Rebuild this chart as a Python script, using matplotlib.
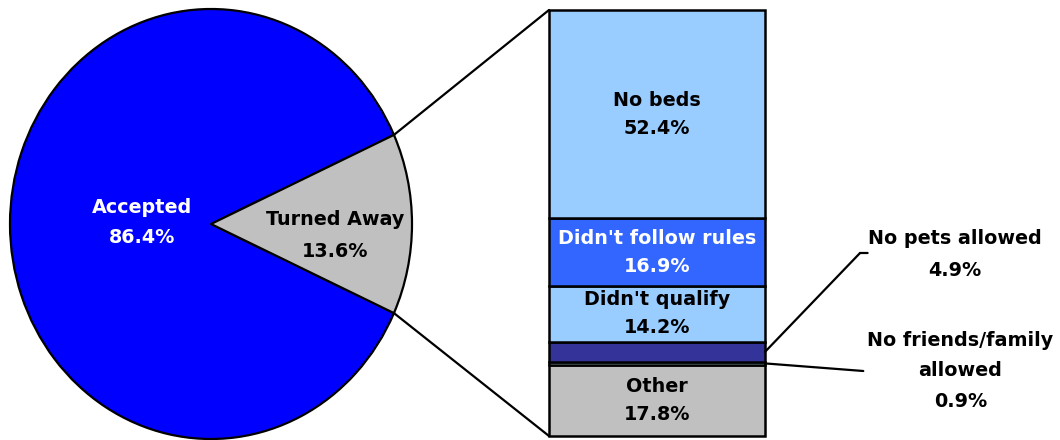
import matplotlib
matplotlib.use("Agg")
import matplotlib.pyplot as plt
from matplotlib.patches import ConnectionPatch
import numpy as np

plt.rcParams['font.family'] = ['DejaVu Sans']

# ---- data ----
pie_labels = ["Accepted", "Turned Away"]
pie_values = [86.4, 13.6]
pie_colors = ["#0000FF", "#C0C0C0"]

bar_labels = ["Other", "No friends/family\nallowed", "No pets allowed",
              "Didn't qualify", "Didn't follow rules", "No beds"]
bar_values = [17.8, 0.9, 4.9, 14.2, 16.9, 52.4]
bar_colors = ["#C0C0C0", "#CCFFFF", "#333399", "#99CCFF", "#3366FF", "#99CCFF"]
bar_text_colors = ["black", "black", "black", "black", "white", "black"]

W, H = 1060, 440
fig = plt.figure(figsize=(W / 100, H / 100), dpi=100)
FS = 13.8

# ---- pie ----
axp = fig.add_axes([10 / W, 1 / H, 402 / W, 430 / H])
start = pie_values[1] / 100 * 360 / 2
wedges, _ = axp.pie(pie_values, colors=pie_colors, startangle=start,
                    counterclock=True,
                    wedgeprops=dict(edgecolor="black", linewidth=1.6,
                                    clip_on=False))
axp.set_aspect('auto')
axp.set_xlim(-1.0, 1.0)
axp.set_ylim(-1.0, 1.0)
axp.axis('off')

# labels inside pie
def two_lines(ax, x, y1, y2, l1, l2, color, **kw):
    ax.text(x, y1, l1, ha='center', va='center', fontsize=FS,
            fontweight='bold', color=color, **kw)
    ax.text(x, y2, l2, ha='center', va='center', fontsize=FS,
            fontweight='bold', color=color, **kw)

two_lines(axp, -0.343, 0.079, -0.065, pie_labels[0],
          f"{pie_values[0]:.1f}%", "white")
two_lines(axp, 0.617, 0.019, -0.126, pie_labels[1],
          f"{pie_values[1]:.1f}%", "black")

# ---- stacked bar ----
total = sum(bar_values)
axb = fig.add_axes([549 / W, 4 / H, 216 / W, 426 / H])
bottoms = np.concatenate([[0], np.cumsum(bar_values)[:-1]])
bars = axb.bar([0.5] * len(bar_values), bar_values, width=1.0, bottom=bottoms,
               color=bar_colors, edgecolor="black", linewidth=1.8)
for b in bars:
    b.set_clip_on(False)
axb.set_xlim(0, 1)
axb.set_ylim(0, total)
axb.axis('off')

for lab, v, b, tc in zip(bar_labels, bar_values, bottoms, bar_text_colors):
    mid = b + v / 2
    if v < 5:
        continue
    px_per = 426 / total
    off = 14 / px_per
    two_lines(axb, 0.5, mid + off, mid - off, lab, f"{v:.1f}%", tc)

# outside labels for small segments
# No pets allowed
i_p = 2
mid_p = bottoms[i_p] + bar_values[i_p] / 2
axb.annotate("", xy=(1.0, mid_p), xycoords='data',
             xytext=(1.44, 0.4296), textcoords='axes fraction',
             arrowprops=dict(arrowstyle='-', color='black', lw=1.6,
                             shrinkA=0, shrinkB=0))
axb.annotate("", xy=(1.44, 0.4296), xycoords='axes fraction',
             xytext=(1.475, 0.4296), textcoords='axes fraction',
             arrowprops=dict(arrowstyle='-', color='black', lw=1.6,
                             shrinkA=0, shrinkB=0))
axb.text(1.88, (436 - 238) / 426, bar_labels[i_p], transform=axb.transAxes,
         ha='center', va='center', fontsize=FS, fontweight='bold')
axb.text(1.88, (436 - 270) / 426, f"{bar_values[i_p]:.1f}%",
         transform=axb.transAxes, ha='center', va='center', fontsize=FS,
         fontweight='bold')

# No friends/family allowed
i_f = 1
mid_f = bottoms[i_f] + bar_values[i_f] / 2
axb.annotate("", xy=(1.0, mid_f), xycoords='data',
             xytext=(1.455, (436 - 371) / 426), textcoords='axes fraction',
             arrowprops=dict(arrowstyle='-', color='black', lw=1.6,
                             shrinkA=0, shrinkB=0))
fl = bar_labels[i_f].split("\n")
for txt, py in zip(fl + [f"{bar_values[i_f]:.1f}%"], [340, 370, 401]):
    axb.text(1.905, (436 - py) / 426, txt, transform=axb.transAxes,
             ha='center', va='center', fontsize=FS, fontweight='bold')

# ---- connecting lines ----
th1 = np.deg2rad(start)
th2 = np.deg2rad(-start)
for th, yb in [(th1, total), (th2, 0)]:
    con = ConnectionPatch(xyA=(np.cos(th), np.sin(th)), coordsA=axp.transData,
                          xyB=(0, yb), coordsB=axb.transData,
                          color='black', linewidth=1.6)
    fig.add_artist(con)

fig.savefig("out.png", dpi=100, facecolor='white')
